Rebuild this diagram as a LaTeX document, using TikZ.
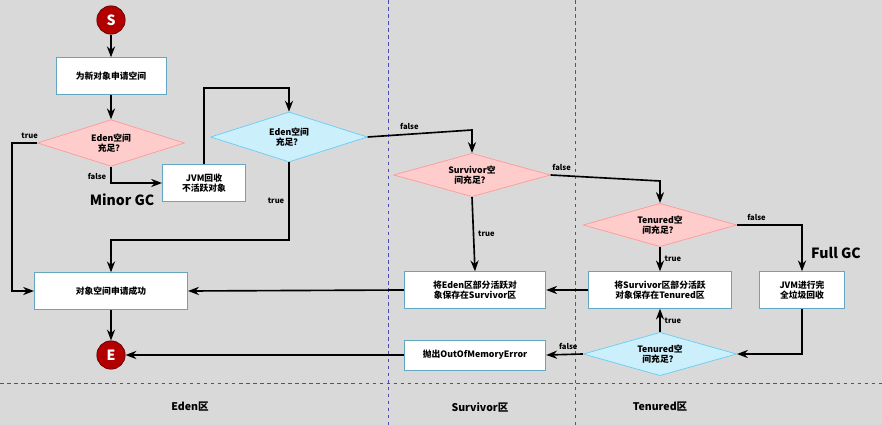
\documentclass[tikz,border=0pt]{standalone}
\usepackage{fontspec}
\setmainfont{Noto Sans CJK SC}
\usetikzlibrary{shapes.geometric, positioning, arrows.meta}

\begin{document}
\begin{tikzpicture}[x=0.03cm, y=-0.03cm, >=Stealth, line width=1.4pt,
    every node/.style={font=\fontsize{7.5}{9}\selectfont\bfseries, align=center},
    box/.style={draw=cyan!50!gray, line width=0.6pt, fill=white, minimum height=1.1cm, inner sep=1pt},
    redq/.style={diamond, aspect=3.4, draw=red!40, line width=0.6pt, fill=red!20, inner sep=1pt},
    blueq/.style={diamond, aspect=3.2, draw=cyan!60, line width=0.6pt, fill=cyan!20, inner sep=1pt},
    term/.style={circle, fill=red!70!black, draw=red!40!black, line width=0.6pt, text=white, minimum size=0.85cm, font=\large\bfseries},
    lbl/.style={font=\fontsize{6.5}{8}\selectfont\bfseries},
    zone/.style={dashed, line width=0.6pt, draw=blue!40!gray}]
  \fill[gray!30] (0,0) rectangle (882,425);
  \useasboundingbox (0,0) rectangle (882,425);
  \draw[zone] (388,0) -- (388,425) (575,0) -- (575,425) (0,383) -- (882,383);
  \node[font=\small\bfseries] at (190,407) {Eden区};
  \node[font=\small\bfseries] at (480,407) {Survivor区};
  \node[font=\small\bfseries] at (660,407) {Tenured区};
  % nodes
  \node[term] (s) at (111,20) {S};
  \node[term] (e) at (111,355) {E};
  \node[box, minimum width=3.3cm] (alloc) at (111,76) {为新对象申请空间};
  \node[redq, minimum width=4.4cm, minimum height=1.4cm] (edenA) at (111,143) {Eden空间\\充足？};
  \node[box, minimum width=2.5cm] (minor) at (204,183) {JVM回收\\不活跃对象};
  \node[blueq, minimum width=4.7cm, minimum height=1.5cm] (edenB) at (289,137) {Eden空间\\充足？};
  \node[redq, minimum width=4.7cm, minimum height=1.3cm] (surv) at (472,175) {Survivor空\\间充足？};
  \node[redq, minimum width=4.6cm, minimum height=1.3cm] (tenA) at (660,225) {Tenured空\\间充足？};
  \node[box, minimum width=4.6cm] (ok) at (111,291) {对象空间申请成功};
  \node[box, minimum width=4.25cm] (toSurv) at (475,290) {将Eden区部分活跃对\\象保存在Survivor区};
  \node[box, minimum width=4.3cm] (toTen) at (660,290) {将Survivor区部分活跃\\对象保存在Tenured区};
  \node[box, minimum width=2.55cm] (full) at (802,290) {JVM进行完\\全垃圾回收};
  \node[box, minimum width=4.25cm, minimum height=0.9cm] (oom) at (475,355) {抛出OutOfMemoryError};
  \node[blueq, minimum width=4.6cm, minimum height=1.3cm] (tenB) at (660,354) {Tenured空\\间充足？};
  \node[font=\large\bfseries] at (122,200) {Minor GC};
  \node[font=\large\bfseries] at (836,253) {Full GC};
  % connectors
  \draw[->] (s) -- (alloc);
  \draw[->] (alloc) -- (edenA);
  \draw[->] (edenA.west) -- node[lbl, above, pos=0.3] {true} (12,143) |- (ok.west);
  \draw[->] (edenA.south) |- node[lbl, left, pos=0.3] {false} (minor.west);
  \draw[->] (minor.north) |- (289,88) -- (edenB.north);
  \draw[->] (edenB.south) -- node[lbl, left] {true} (289,240) -| (ok.north);
  \draw[->] (edenB.east) -- node[lbl, above, pos=0.4] {false} (472,130) -- (surv.north);
  \draw[->] (surv.south) -- node[lbl, right] {true} (toSurv.north);
  \draw[->] (surv.east) -- node[lbl, above, pos=0.1] {false} (660,181) -- (tenA.north);
  \draw[->] (tenA.south) -- node[lbl, right] {true} (toTen.north);
  \draw[->] (tenA.east) -- node[lbl, above, pos=0.3] {false} (802,225) -- (full.north);
  \draw[->] (full.south) |- (tenB.east);
  \draw[->] (tenB.north) -- node[lbl, right] {true} (toTen.south);
  \draw[->] (tenB.west) -- node[lbl, above, pos=0.4] {false} (oom.east);
  \draw[->] (oom.west) -- (e.east);
  \draw[->] (toTen.west) -- (toSurv.east);
  \draw[->] (toSurv.west) -- (ok.east);
  \draw[->] (ok.south) -- (e.north);
\end{tikzpicture}
\end{document}
